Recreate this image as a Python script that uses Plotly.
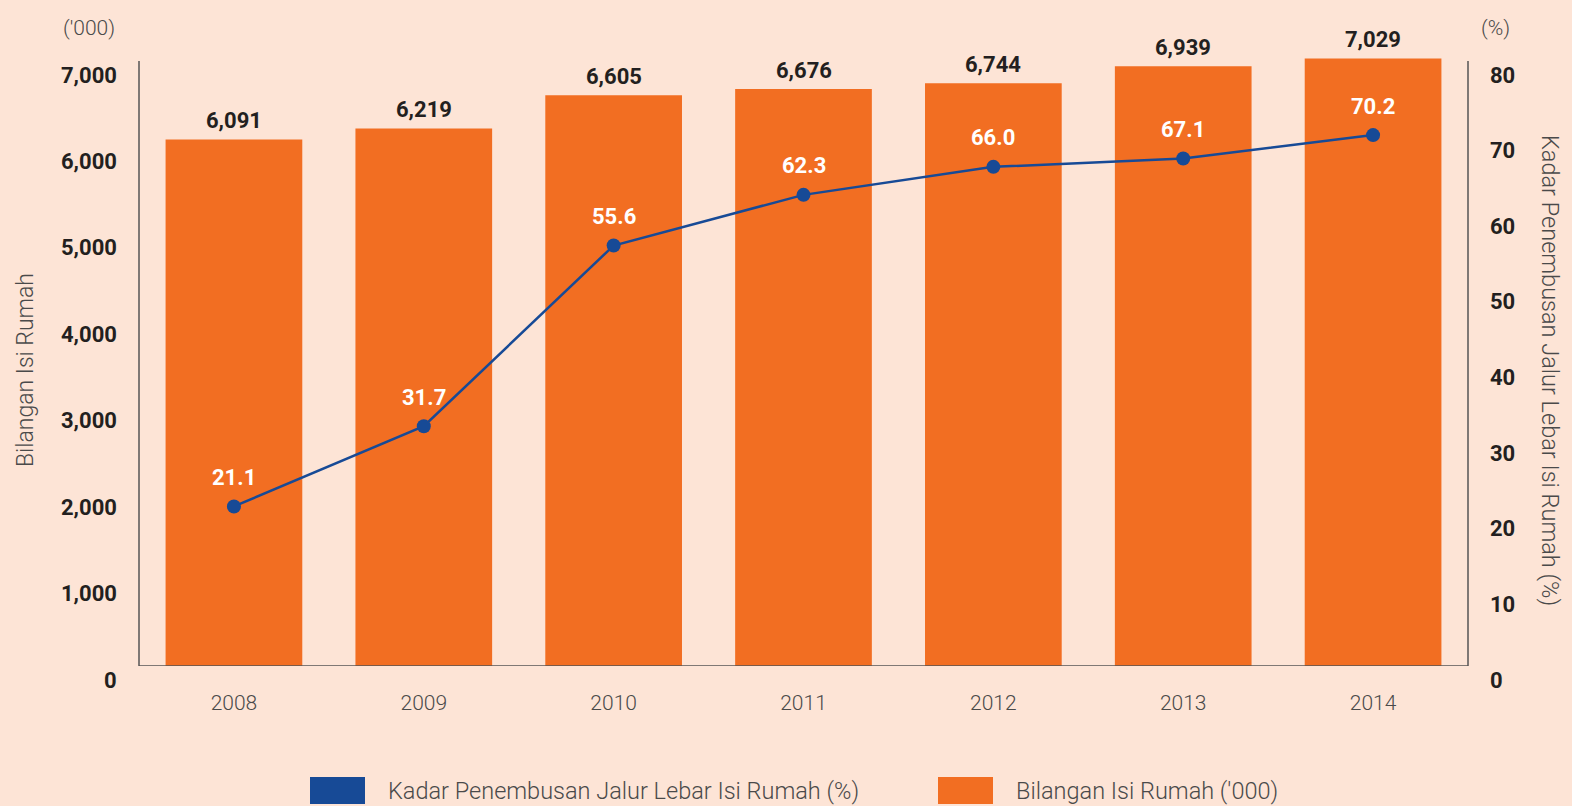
import plotly.graph_objects as go

years = ["2008", "2009", "2010", "2011", "2012", "2013", "2014"]
households = [6091, 6219, 6605, 6676, 6744, 6939, 7029]
penetration = [21.1, 31.7, 55.6, 62.3, 66.0, 67.1, 70.2]
left_ticks = [0, 1000, 2000, 3000, 4000, 5000, 6000, 7000]
right_ticks = [0, 10, 20, 30, 40, 50, 60, 70, 80]

BG = "#fde4d6"
ORANGE = "#f26e22"
BLUE = "#174a96"
DARK = "#231f20"
GREY = "#4a4a4a"
FONT = "Roboto"

LMAX = 7000 * 610 / 605
RMAX = 80 * 610 / 605

fig = go.Figure()
fig.add_trace(go.Bar(x=years, y=households, marker_color=ORANGE, marker_line_width=0,
                     name="Bilangan Isi Rumah ('000)", yaxis="y", showlegend=False))
fig.add_trace(go.Scatter(x=years, y=penetration, mode="lines+markers", yaxis="y2",
                         line=dict(color=BLUE, width=2.5), marker=dict(color=BLUE, size=14),
                         name="Kadar Penembusan Jalur Lebar Isi Rumah (%)", showlegend=False))

ann = []
for i, v in enumerate(households):
    ann.append(dict(x=i, y=v, xref="x", yref="y", text=f"{v:,}", showarrow=False,
                    yanchor="middle", yshift=19, font=dict(family=FONT, size=22, color=DARK, weight="bold")))
for i, v in enumerate(penetration):
    ann.append(dict(x=i, y=v, xref="x", yref="y2", text=f"{v:.1f}", showarrow=False,
                    yanchor="middle", yshift=29, font=dict(family=FONT, size=22, color="white", weight="bold")))
for t in left_ticks:
    ann.append(dict(x=0, y=t, xref="paper", yref="y", text=f"{t:,}", showarrow=False,
                    xanchor="right", yanchor="middle", xshift=-20, yshift=-14,
                    font=dict(family=FONT, size=22, color=DARK, weight="bold")))
for t in right_ticks:
    ann.append(dict(x=1, y=t, xref="paper", yref="y2", text=f"{t}", showarrow=False,
                    xanchor="left", yanchor="middle", xshift=20, yshift=-14,
                    font=dict(family=FONT, size=22, color=DARK, weight="bold")))
ann.append(dict(x=0, y=7000, xref="paper", yref="y", text="('000)", showarrow=False,
                xanchor="center", yanchor="middle", xshift=-50, yshift=33,
                font=dict(family=FONT, size=21, color=GREY, weight=300)))
ann.append(dict(x=1, y=80, xref="paper", yref="y2", text="(%)", showarrow=False,
                xanchor="center", yanchor="middle", xshift=27, yshift=33,
                font=dict(family=FONT, size=21, color=GREY, weight=300)))
ann.append(dict(x=0, y=0.5, xref="paper", yref="paper", text="Bilangan Isi Rumah", showarrow=False,
                textangle=-90, xanchor="center", yanchor="middle", xshift=-114, yshift=-9,
                font=dict(family=FONT, size=23, color=GREY, weight=300)))
ann.append(dict(x=1, y=0.5, xref="paper", yref="paper", text="Kadar Penembusan Jalur Lebar Isi Rumah (%)",
                showarrow=False, textangle=90, xanchor="center", yanchor="middle", xshift=82, yshift=-9,
                font=dict(family=FONT, size=23.5, color=GREY, weight=300)))
# legend
leg = [("Kadar Penembusan Jalur Lebar Isi Rumah (%)", BLUE, 310), ("Bilangan Isi Rumah ('000)", ORANGE, 938)]
shapes = []
W, H = 1572, 806
L, R, T, B = 139, 104, 56, 140
pw, ph = W - L - R, H - T - B
for text, col, px in leg:
    x0 = (px - L) / pw
    x1 = (px + 55 - L) / pw
    y0 = (H - B - 804) / ph
    y1 = (H - B - 777) / ph
    shapes.append(dict(type="rect", xref="paper", yref="paper", x0=x0, x1=x1, y0=y0, y1=y1,
                       fillcolor=col, line_width=0))
    ann.append(dict(x=(px + 76 - L) / pw, y=(y0 + y1) / 2, xref="paper", yref="paper", text=text,
                    showarrow=False, xanchor="left", yanchor="middle",
                    font=dict(family=FONT, size=23.5, color=GREY, weight=300)))
# axis lines
shapes.append(dict(type="line", xref="paper", yref="y", x0=0, x1=0, y0=0, y1=7000, line=dict(color="#555", width=1.5)))
shapes.append(dict(type="line", xref="paper", yref="y", x0=1, x1=1, y0=0, y1=7000, line=dict(color="#555", width=1.5)))
shapes.append(dict(type="line", xref="paper", yref="y", x0=0, x1=1, y0=0, y1=0, line=dict(color="#555", width=1.5)))

fig.update_layout(
    width=W, height=H, paper_bgcolor=BG, plot_bgcolor=BG,
    margin=dict(l=L, r=R, t=T, b=B),
    bargap=0.28,
    xaxis=dict(type="category", range=[-0.5, len(years) - 0.5], showgrid=False, showline=False, ticks="",
               tickfont=dict(family=FONT, size=21, color=GREY, weight=300), ticklabelstandoff=22),
    yaxis=dict(range=[0, LMAX], showgrid=False, showline=False, showticklabels=False, zeroline=False),
    yaxis2=dict(range=[0, RMAX], overlaying="y", side="right", showgrid=False, showline=False,
                showticklabels=False, zeroline=False),
    annotations=ann, shapes=shapes,
)
fig.write_html("out.html", config={"displayModeBar": False},
               post_script="document.body.style.margin='0';document.body.style.background='%s';" % BG)
